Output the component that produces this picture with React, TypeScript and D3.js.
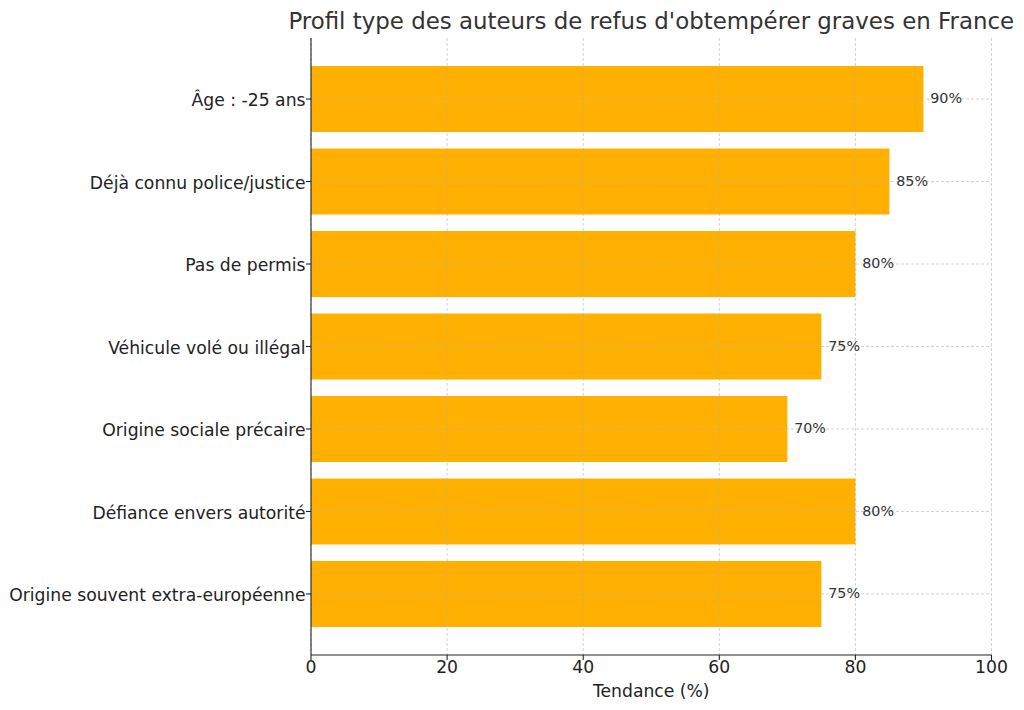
import React from "react";
import * as d3 from "d3";

const categories = [
  "Âge : -25 ans",
  "Déjà connu police/justice",
  "Pas de permis",
  "Véhicule volé ou illégal",
  "Origine sociale précaire",
  "Défiance envers autorité",
  "Origine souvent extra-européenne",
];
const values = [90, 85, 80, 75, 70, 80, 75];
const xTicks = [0, 20, 40, 60, 80, 100];
const title = "Profil type des auteurs de refus d'obtempérer graves en France";
const xLabel = "Tendance (%)";

const W = 1024;
const H = 710;
const left = 311;
const right = 991.5;
const top = 38;
const bottom = 655;
const font = "DejaVu Sans, sans-serif";

export default function App() {
  const x = d3.scaleLinear().domain([0, 100]).range([left, right]);
  const n = categories.length;
  const y = d3.scaleLinear().domain([-0.74, n - 1 + 0.74]).range([top, bottom]);
  const barH = y(0.4) - y(-0.4);
  return (
    <svg width={W} height={H} style={{ position: "absolute", left: 0, top: 0, background: "#fff" }}>
      {categories.map((c, i) => (
        <rect key={c} x={x(0)} y={y(i) - barH / 2} width={x(values[i]) - x(0)} height={barH} fill="#FFB000" />
      ))}
      {xTicks.map((t) => (
        <line key={"gx" + t} x1={x(t)} x2={x(t)} y1={top} y2={bottom} stroke="#b0b0b0" strokeOpacity={0.7} strokeWidth={0.8} strokeDasharray="3,2" />
      ))}
      {categories.map((c, i) => (
        <line key={"gy" + c} x1={left} x2={right} y1={y(i)} y2={y(i)} stroke="#b0b0b0" strokeOpacity={0.7} strokeWidth={0.8} strokeDasharray="3,2" />
      ))}
      <line x1={left} x2={left} y1={top} y2={bottom} stroke="#222" strokeWidth={1.1} />
      <line x1={left} x2={right} y1={bottom} y2={bottom} stroke="#222" strokeWidth={1.1} />
      {xTicks.map((t) => (
        <g key={"tx" + t}>
          <line x1={x(t)} x2={x(t)} y1={bottom} y2={bottom + 5} stroke="#222" strokeWidth={1.1} />
          <text x={x(t)} y={673} textAnchor="middle" fontFamily={font} fontSize={17.2} fill="#222">{t}</text>
        </g>
      ))}
      {categories.map((c, i) => (
        <g key={"ty" + c}>
          <line x1={left - 5} x2={left} y1={y(i)} y2={y(i)} stroke="#222" strokeWidth={1.1} />
          <text x={left - 5.5} y={y(i)} dy="0.42em" textAnchor="end" fontFamily={font} fontSize={17.2} fill="#222">{c}</text>
        </g>
      ))}
      {categories.map((c, i) => (
        <text key={"v" + c} x={x(values[i] + 1)} y={y(i)} dy="0.3em" fontFamily={font} fontSize={14.3} fill="#333">{values[i]}%</text>
      ))}
      <text x={(left + right) / 2} y={697} textAnchor="middle" fontFamily={font} fontSize={17.2} fill="#222">{xLabel}</text>
      <text x={(left + right) / 2} y={29} textAnchor="middle" fontFamily={font} fontSize={22.9} fill="#333">{title}</text>
    </svg>
  );
}
